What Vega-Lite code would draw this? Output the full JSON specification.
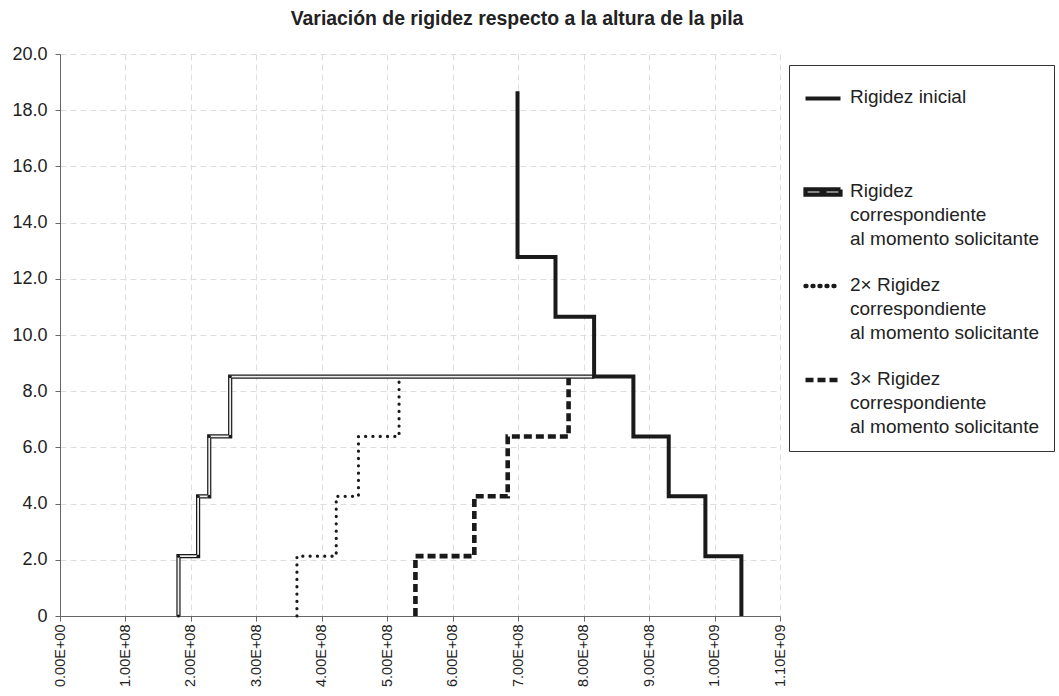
{
  "$schema": "https://vega.github.io/schema/vega-lite/v6.json",
  "width": 720,
  "height": 562,
  "autosize": {"type": "none"},
  "padding": {"left": 60, "top": 54, "right": 279, "bottom": 80},
  "background": "white",
  "title": {
    "text": "Variación de rigidez respecto a la altura de la pila",
    "font": "Liberation Sans",
    "fontSize": 19.4,
    "fontWeight": "bold",
    "color": "#222",
    "anchor": "middle",
    "dx": 97,
    "offset": 16
  },
  "config": {
    "view": {"stroke": null},
    "axis": {
      "labelFont": "Liberation Sans",
      "labelFontSize": 18,
      "labelColor": "#222",
      "domainColor": "#666",
      "tickColor": "#666",
      "tickSize": 5,
      "gridColor": "#dddddd",
      "gridDash": [6, 4],
      "gridWidth": 1,
      "title": null
    }
  },
  "datasets": {
    "pts": [
      {"s": "ini", "i": 0, "x": 1041000000, "y": 0},
      {"s": "ini", "i": 1, "x": 1041000000, "y": 2.13},
      {"s": "ini", "i": 2, "x": 986000000, "y": 2.13},
      {"s": "ini", "i": 3, "x": 986000000, "y": 4.26},
      {"s": "ini", "i": 4, "x": 930000000, "y": 4.26},
      {"s": "ini", "i": 5, "x": 930000000, "y": 6.39},
      {"s": "ini", "i": 6, "x": 876000000, "y": 6.39},
      {"s": "ini", "i": 7, "x": 876000000, "y": 8.52},
      {"s": "ini", "i": 8, "x": 816000000, "y": 8.52},
      {"s": "ini", "i": 9, "x": 816000000, "y": 10.65},
      {"s": "ini", "i": 10, "x": 757000000, "y": 10.65},
      {"s": "ini", "i": 11, "x": 757000000, "y": 12.78},
      {"s": "ini", "i": 12, "x": 699000000, "y": 12.78},
      {"s": "ini", "i": 13, "x": 699000000, "y": 18.67},
      {"s": "sol", "i": 0, "x": 181000000, "y": 0},
      {"s": "sol", "i": 1, "x": 181000000, "y": 2.13},
      {"s": "sol", "i": 2, "x": 211000000, "y": 2.13},
      {"s": "sol", "i": 3, "x": 211000000, "y": 4.26},
      {"s": "sol", "i": 4, "x": 228000000, "y": 4.26},
      {"s": "sol", "i": 5, "x": 228000000, "y": 6.39},
      {"s": "sol", "i": 6, "x": 260000000, "y": 6.39},
      {"s": "sol", "i": 7, "x": 260000000, "y": 8.52},
      {"s": "sol", "i": 8, "x": 816000000, "y": 8.52},
      {"s": "x2", "i": 0, "x": 362000000, "y": 0},
      {"s": "x2", "i": 1, "x": 362000000, "y": 2.13},
      {"s": "x2", "i": 2, "x": 422000000, "y": 2.13},
      {"s": "x2", "i": 3, "x": 422000000, "y": 4.26},
      {"s": "x2", "i": 4, "x": 456000000, "y": 4.26},
      {"s": "x2", "i": 5, "x": 456000000, "y": 6.39},
      {"s": "x2", "i": 6, "x": 518000000, "y": 6.39},
      {"s": "x2", "i": 7, "x": 518000000, "y": 8.52},
      {"s": "x3", "i": 0, "x": 543000000, "y": 0},
      {"s": "x3", "i": 1, "x": 543000000, "y": 2.13},
      {"s": "x3", "i": 2, "x": 633000000, "y": 2.13},
      {"s": "x3", "i": 3, "x": 633000000, "y": 4.26},
      {"s": "x3", "i": 4, "x": 684000000, "y": 4.26},
      {"s": "x3", "i": 5, "x": 684000000, "y": 6.39},
      {"s": "x3", "i": 6, "x": 777000000, "y": 6.39},
      {"s": "x3", "i": 7, "x": 777000000, "y": 8.52}
    ]
  },
  "data": {"name": "pts"},
  "encoding": {
    "x": {
      "field": "x", "type": "quantitative",
      "scale": {"domain": [0, 1100000000], "nice": false, "zero": true},
      "axis": {
        "values": [0, 100000000, 200000000, 300000000, 400000000, 500000000, 600000000, 700000000, 800000000, 900000000, 1000000000, 1100000000],
        "labelAngle": -90,
        "labelPadding": 3,
        "labelFontSize": 14.5,
        "labelExpr": "datum.value == 0 ? '0.00E+00' : (datum.value < 950000000 ? format(datum.value / 100000000, '.2f') + 'E+08' : format(datum.value / 1000000000, '.2f') + 'E+09')"
      }
    },
    "y": {
      "field": "y", "type": "quantitative",
      "scale": {"domain": [0, 20], "nice": false},
      "axis": {
        "values": [0, 2, 4, 6, 8, 10, 12, 14, 16, 18, 20],
        "labelPadding": 8,
        "labelExpr": "datum.value == 0 ? '0' : format(datum.value, '.1f')"
      }
    },
    "order": {"field": "i", "type": "quantitative"}
  },
  "layer": [
    {
      "transform": [{"filter": "datum.s == 'sol' || datum.s == 'x3'"}],
      "mark": {"type": "line", "color": "#1a1a1a", "strokeCap": "butt", "strokeJoin": "miter"},
      "encoding": {
        "strokeDash": {
          "field": "s", "type": "nominal",
          "scale": {"domain": ["ini", "sol", "x2", "x3"], "range": [[1, 0], [1, 0], [1, 6], [8, 4]]},
          "legend": {
            "orient": "none",
            "legendX": 729,
            "legendY": 11,
            "title": null,
            "padding": 14,
            "strokeColor": "#333",
            "fillColor": "white",
            "symbolType": "stroke",
            "symbolSize": 1225,
            "symbolStrokeColor": "#1a1a1a",
            "labelFont": "Liberation Sans",
            "labelFontSize": 19,
            "labelColor": "#222",
            "labelLimit": 400,
            "labelOffset": 7,
            "labelBaseline": "top",
            "rowPadding": 17,
            "labelExpr": "datum.value == 'ini' ? ['Rigidez inicial', '', ''] : (datum.value == 'sol' ? ['Rigidez', 'correspondiente', 'al momento solicitante'] : (datum.value == 'x2' ? ['2× Rigidez', 'correspondiente', 'al momento solicitante'] : ['3× Rigidez', 'correspondiente', 'al momento solicitante']))",
            "encode": {
              "symbols": {
                "update": {
                  "shape": {"signal": "datum.value == 'sol' ? 'M-1,-0.15H1V0.15H-1Z M-0.08,-0.15H0.08V0.15H-0.08Z' : 'stroke'"},
                  "strokeWidth": {"signal": "datum.value == 'ini' ? 3.5 : (datum.value == 'sol' ? 0.9 : 3)"},
                  "strokeDash": {"signal": "datum.value == 'x2' ? [0.1, 6] : (datum.value == 'x3' ? [7, 4] : [1, 0])"},
                  "strokeCap": {"signal": "datum.value == 'x2' ? 'round' : 'butt'"},
                  "stroke": {"value": "#1a1a1a"},
                  "fill": {"signal": "datum.value == 'sol' ? '#eeeeee' : 'transparent'"},
                  "opacity": {"value": 1}
                }
              },
              "labels": {
                "update": {
                  "lineHeight": {"value": 24},
                  "dy": {"value": -10.5}
                }
              }
            }
          }
        },
        "strokeWidth": {
          "field": "s", "type": "nominal",
          "scale": {"domain": ["ini", "sol", "x2", "x3"], "range": [4, 4.6, 3, 3.5]},
          "legend": null
        }
      }
    },
    {
      "transform": [{"filter": "datum.s == 'sol'"}],
      "mark": {"type": "line", "color": "#eeeeee", "strokeWidth": 1.8, "strokeJoin": "miter"}
    },
    {
      "transform": [{"filter": "datum.s == 'sol'"}],
      "mark": {"type": "point", "filled": true, "color": "#1a1a1a", "size": 10, "opacity": 1}
    },
    {
      "transform": [{"filter": "datum.s == 'x2'"}],
      "mark": {"type": "line", "color": "#1a1a1a", "strokeWidth": 3.2, "strokeDash": [0.1, 7.2], "strokeCap": "round"}
    },
    {
      "transform": [{"filter": "datum.s == 'ini'"}],
      "mark": {"type": "line", "color": "#1a1a1a", "strokeWidth": 4, "strokeCap": "butt", "strokeJoin": "miter"}
    }
  ]
}
